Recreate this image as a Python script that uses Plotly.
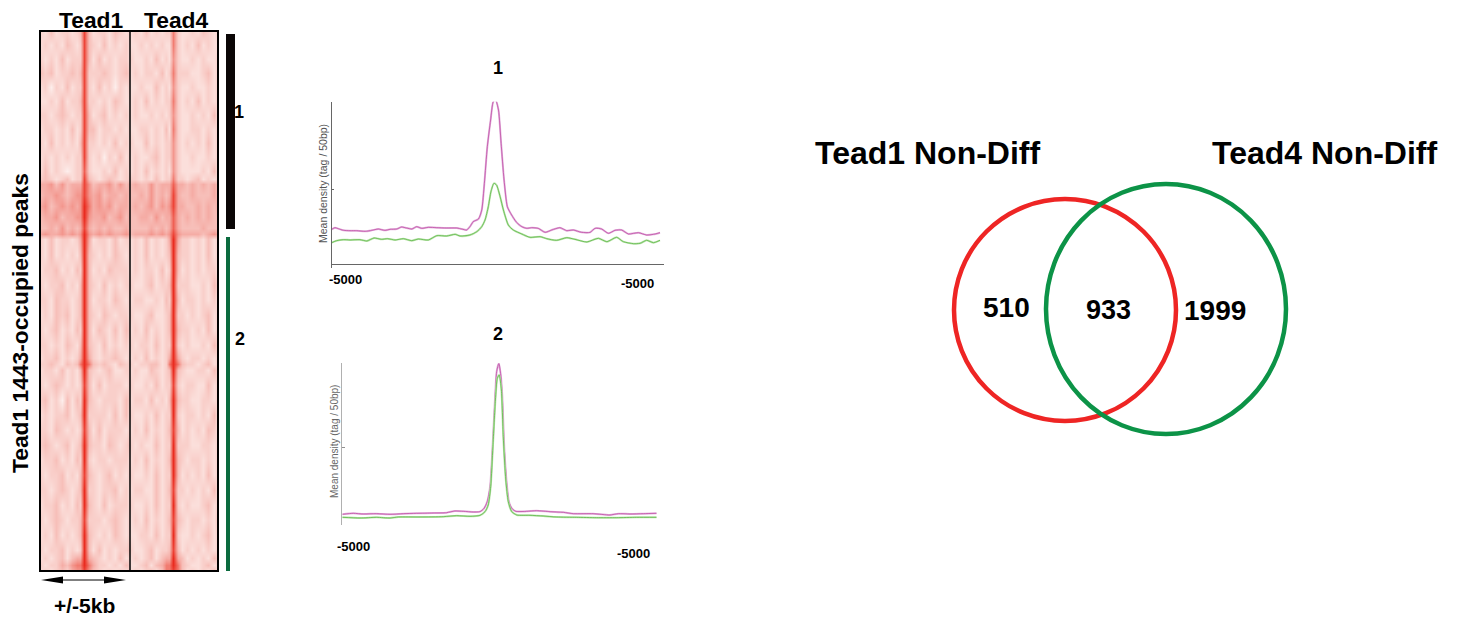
import plotly.graph_objects as go

W, H = 1459, 620
FONT = "Liberation Sans"

# ---------- heat map data (hand-read shade levels, 0 pale .. 9 red) ----------
heat_kb = [-5, -4.4, -3.8, -3.2, -2.6, -2, -1.4, -0.9, -0.6, -0.1, 0.4, 0.9, 1.5, 2.1, 2.7, 3.3, 3.9, 4.5, 5]
heat_rank = [0, 37, 75, 112, 150, 187, 224, 262, 299, 337, 374, 395, 409, 438, 468, 497, 526, 542, 556,
             598, 639, 679, 719, 759, 799, 839, 874, 890, 906, 946, 986, 1026, 1066, 1106, 1146, 1186,
             1226, 1266, 1306, 1347, 1387, 1408, 1427, 1443]
tead1_rows = [
    "21312212 3 8 3 12213212", "12121321 2 8 3 21312121", "21213122 2 8 3 13121221", "32312232 3 8 2 22321232",
    "12021312 2 8 2 13120212", "11213122 3 8 2 21213211", "22123212 2 8 3 12312121", "12212131 2 8 3 31221212",
    "21312121 3 8 2 21213121", "12121212 2 8 2 12021312", "13121012 2 7 2 11213121", "23212312 2 8 3 21232122",
    "44535344 4 8 5 34453534", "34454345 5 8 5 45344343", "45345454 5 9 6 45453443", "34453445 5 9 5 44534534",
    "33435343 4 8 4 34343343", "45445454 5 9 5 45454454", "21312212 4 9 4 12213122",
    "21312121 3 9 3 21213212", "12231213 2 9 3 12132221", "21223121 3 9 3 21312122", "22132212 3 9 3 12213212",
    "12132312 3 9 3 21321221", "21231213 2 9 3 13213132", "22121321 3 9 3 21312121", "12231212 4 9 4 21223212",
    "22321323 6 9 6 32321322", "12213121 3 9 3 21231122", "21232121 2 8 3 13122212", "23120313 2 9 3 21222132",
    "12122312 3 9 2 22213131", "22132121 2 8 3 13122212", "23212312 3 9 3 22132123", "12231213 2 9 2 12212221",
    "21223121 3 8 3 21231212", "22123212 3 9 2 21223121", "12231213 2 9 3 21312221", "21232122 3 8 2 22123212",
    "12131212 3 9 3 21213212", "21223121 2 9 3 13121223", "12123134 4 9 4 32121312", "21224356 6 9 6 42212132",
    "12123245 5 8 5 32121213",
]
tead4_rows = [
    "12131212 2 6 2 11213212", "11212121 1 6 2 12131211", "21121312 1 5 2 11212112", "12122131 2 6 2 22112312",
    "11211312 1 5 2 11211212", "12131212 2 6 2 12131212", "12112121 2 5 2 11212131", "11221213 1 6 2 11221212",
    "21131212 2 5 2 12121312", "12112312 2 5 2 11211212", "12131212 1 5 2 11112131", "22121312 2 6 2 21231212",
    "34335344 4 7 4 43434343", "33435343 4 8 4 33433343", "34345354 5 8 4 43343434", "33443534 4 7 4 34343433",
    "33334343 4 7 4 33334333", "34445454 5 8 5 44443454", "12131212 4 9 4 22121312",
    "12131212 3 9 3 22121312", "12122131 2 9 3 12121221", "21123122 3 9 2 22112132", "12211213 2 9 3 12212121",
    "21123112 3 9 2 21212312", "12131212 3 9 3 22121312", "21221312 2 9 2 12112132", "12131212 4 9 4 21221212",
    "21223312 6 9 6 32212312", "12113212 3 9 3 21122132", "21121312 2 8 2 12211312", "12213121 3 9 3 22112212",
    "21121312 2 9 2 12212131", "12131212 3 8 3 12121321", "21211312 2 9 2 22112212", "12131212 3 9 3 21221212",
    "21121312 2 9 3 12121312", "12211312 3 8 2 21212131", "21121312 2 9 2 12112312", "12131212 3 8 3 21221213",
    "11221312 2 9 2 11212312", "21123122 3 8 3 12121212", "12123134 4 9 4 31212132", "11231346 6 9 6 32112312",
    "12123136 6 8 6 31212131",
]
heat_colors = ["#fdeeec", "#fbdfdb", "#f9cfca", "#f7bfb9", "#f5aca5",
               "#f3968d", "#f17c71", "#ef6054", "#ed4438", "#e92c20"]

# ---------- profile 1 ----------
p1_magenta_x = [-5000, -4900, -4800, -4640, -4440, -4240, -3980, -3780, -3580, -3380, -3220, -3020, -2870, -2720, -2560,
                -2410, -2260, -2060, -1800, -1500, -1190, -1040, -890, -790, -690, -530, -430, -350, -260, -160,
                -80, -10, 80, 160, 250, 350, 480, 630, 790, 940, 1090, 1290, 1500, 1700, 1950,
                2160, 2360, 2610, 2870, 3020, 3220, 3430, 3630, 3830, 4040, 4340, 4590, 4800, 5000]
p1_magenta_y = [143, 148, 145, 140, 139, 139, 137, 140, 144, 140, 143, 144, 150, 147, 144,
                151, 146, 149, 148, 147, 147, 144, 141, 151, 166, 174, 201, 281, 391, 471,
                526, 531, 501, 401, 291, 211, 186, 164, 151, 146, 148, 146, 134, 141, 148,
                139, 141, 134, 134, 146, 144, 131, 140, 141, 129, 133, 126, 128, 133]
p1_green_x = [-5000, -4850, -4640, -4440, -4140, -3930, -3710, -3480, -3300, -3070, -2820, -2560, -2360, -2060, -1800,
              -1500, -1240, -1090, -790, -580, -430, -330, -230, -150, -60, 20, 130, 230, 380, 530,
              790, 1040, 1350, 1550, 1850, 2160, 2410, 2770, 3120, 3380, 3680, 3880, 4190, 4390, 4590, 4800, 5000]
p1_green_y = [103, 109, 112, 111, 112, 108, 117, 113, 115, 111, 115, 109, 114, 111, 124,
              123, 128, 123, 126, 136, 151, 171, 211, 256, 281, 276, 241, 201, 156, 141,
              129, 119, 121, 115, 110, 118, 113, 105, 116, 106, 119, 106, 100, 101, 110, 103, 110]

# ---------- profile 2 ----------
p2_magenta_x = [-5000, -4650, -4330, -3910, -3480, -3060, -2640, -2110, -1680, -1420, -1150, -830, -620, -490, -390,
                -300, -220, -140, -90, -20, 40, 90, 150, 230, 300, 390, 520, 860, 1180, 1610,
                2030, 2350, 2980, 3510, 3780, 4150, 4580, 5000]
p2_magenta_y = [62, 65, 63, 64, 62, 64, 65, 66, 67, 72, 71, 69, 70, 80, 100,
                145, 265, 415, 490, 515, 480, 415, 265, 155, 100, 80, 71, 71, 73, 70,
                68, 64, 64, 60, 64, 63, 64, 65]
p2_green_x = [-5000, -4440, -3910, -3480, -3220, -2530, -1790, -1360, -940, -620, -460, -360, -280, -210, -130,
              -70, -10, 60, 120, 200, 280, 390, 550, 970, 1390, 1820, 2450, 3090, 3730, 4360, 5000]
p2_green_y = [53, 51, 53, 51, 54, 54, 55, 58, 56, 59, 70, 90, 145, 265, 405,
              470, 480, 435, 295, 165, 100, 70, 60, 59, 57, 54, 53, 52, 52, 53, 53]

venn_counts = ["510", "933", "1999"]
venn_titles = ["Tead1 Non-Diff", "Tead4 Non-Diff"]


def fx(x):
    return x / W


def fy(y):
    return 1 - y / H


def to_matrix(rows):
    return [[int(c) for c in r.replace(" ", "")] for r in rows]


scale = [[i / 9, c] for i, c in enumerate(heat_colors)]
fig = go.Figure()

for rows, xa, ya in [(tead1_rows, "x", "y"), (tead4_rows, "x2", "y2")]:
    fig.add_trace(go.Heatmap(x=heat_kb, y=heat_rank, z=to_matrix(rows), colorscale=scale, zmin=0, zmax=9,
                             zsmooth="best", showscale=False, hoverinfo="skip", xaxis=xa, yaxis=ya))


def profile(xs, ys, halo, core, xa, ya):
    fig.add_trace(go.Scatter(x=xs, y=ys, mode="lines", line=dict(color=halo, width=2, shape="spline", smoothing=0.6),
                             cliponaxis=False, hoverinfo="skip", xaxis=xa, yaxis=ya))
    fig.add_trace(go.Scatter(x=xs, y=ys, mode="lines", line=dict(color=core, width=0.8, shape="spline", smoothing=0.6),
                             cliponaxis=False, hoverinfo="skip", xaxis=xa, yaxis=ya))


MAG_H, MAG_C, GRN_H, GRN_C = "#e3b2dc", "#c04fa6", "#bfe5b0", "#5cb847"
profile(p1_magenta_x, p1_magenta_y, MAG_H, MAG_C, "x3", "y3")
profile(p1_green_x, p1_green_y, GRN_H, GRN_C, "x3", "y3")
profile(p2_magenta_x, p2_magenta_y, MAG_H, MAG_C, "x4", "y4")
profile(p2_green_x, p2_green_y, GRN_H, GRN_C, "x4", "y4")


def hidden(domain, rng, anchor):
    return dict(domain=domain, range=rng, anchor=anchor, visible=False, fixedrange=True)


layout = dict(
    width=W, height=H, margin=dict(l=0, r=0, t=0, b=0), paper_bgcolor="white", plot_bgcolor="rgba(0,0,0,0)",
    showlegend=False, font=dict(family=FONT, color="black"),
    xaxis=hidden([fx(40), fx(130)], [-5, 5], "y"),
    yaxis=hidden([fy(571), fy(31)], [1443, 0], "x"),
    xaxis2=hidden([fx(130), fx(218)], [-5, 5], "y2"),
    yaxis2=hidden([fy(571), fy(31)], [1443, 0], "x2"),
    xaxis3=dict(domain=[fx(331.7), fx(664.3)], range=[-5000, 5130], anchor="y3", showgrid=False, zeroline=False,
                showline=True, linecolor="#666666", linewidth=1, tickvals=[-5000], ticktext=[""], ticks="outside",
                ticklen=3, tickcolor="#666666", fixedrange=True),
    yaxis3=dict(domain=[fy(264), fy(101.7)], range=[39, 526], anchor="x3", showgrid=False, zeroline=False,
                showline=True, linecolor="#666666", linewidth=1, tickvals=[263, 526], ticktext=["", ""],
                ticks="inside", ticklen=2, tickcolor="#666666", fixedrange=True),
    xaxis4=dict(domain=[fx(342.3), fx(656.7)], range=[-5000, 5000], anchor="y4", visible=False, fixedrange=True),
    yaxis4=dict(domain=[fy(525), fy(363.3)], range=[30, 515], anchor="x4", showgrid=False, zeroline=False,
                showline=True, linecolor="#b0b0b0", linewidth=1, tickvals=[262, 515], ticktext=["", ""],
                ticks="inside", ticklen=3, tickcolor="#909090", fixedrange=True),
)


def rect(x0, y0, x1, y1, fill=None, line=None, lw=0):
    return dict(type="rect", xref="paper", yref="paper", x0=fx(x0), x1=fx(x1), y0=fy(y0), y1=fy(y1),
                fillcolor=fill or "rgba(0,0,0,0)", line=dict(color=line or "rgba(0,0,0,0)", width=lw), layer="above")


def ellipse(x, y, rx, ry, color):
    return dict(type="circle", xref="paper", yref="paper", x0=fx(x - rx), x1=fx(x + rx), y0=fy(y + ry), y1=fy(y - ry),
                line=dict(color=color, width=4.5), layer="above")


def seg(x0, y0, x1, y1, color="black", lw=1):
    return dict(type="line", xref="paper", yref="paper", x0=fx(x0), x1=fx(x1), y0=fy(y0), y1=fy(y1),
                line=dict(color=color, width=lw), layer="above")


def tri(x0, x1, y, h):
    return dict(type="path", xref="paper", yref="paper", layer="above", fillcolor="black", line=dict(width=0),
                path=f"M {fx(x0)} {fy(y)} L {fx(x1)} {fy(y - h)} L {fx(x1)} {fy(y + h)} Z")


layout["shapes"] = [
    rect(40, 31, 218, 571, line="black", lw=2),
    seg(130, 31, 130, 571, lw=1.5),
    rect(226, 34, 235, 229, fill="#0a0606"),
    rect(226, 237, 230, 571, fill="#0b6b3e"),
    seg(62, 580, 105, 580, lw=1),
    tri(41, 63, 580, 3.6),
    tri(126, 104, 580, 3.6),
    ellipse(1065, 310, 111, 111, "#ee2524"),
    ellipse(1166, 309, 120, 125, "#0c9347"),
]


def txt(x, y, s, size, angle=0, color="black", bold=True):
    return dict(xref="paper", yref="paper", x=fx(x), y=fy(y), text=f"<b>{s}</b>" if bold else s, showarrow=False,
                xanchor="center", yanchor="middle", textangle=angle, font=dict(family=FONT, size=size, color=color))


layout["annotations"] = [
    txt(91.5, 20, "Tead1", 22.8), txt(176, 20, "Tead4", 22.8),
    txt(20, 323, "Tead1 1443-occupied peaks", 22.8, angle=-90),
    txt(239, 112, "1", 18), txt(240, 339, "2", 18),
    txt(84, 605, "+/-5kb", 21),
    txt(497.7, 68, "1", 18), txt(498, 334, "2", 18),
    txt(345, 279, "-5000", 13), txt(637, 284, "-5000", 13),
    txt(353, 546, "-5000", 13), txt(633, 553, "-5000", 13),
    txt(323, 184, "Mean density (tag / 50bp)", 10.5, angle=-90, color="#555555", bold=False),
    txt(334, 442, "Mean density (tag / 50bp)", 10, angle=-90, color="#666666", bold=False),
    txt(928, 153, venn_titles[0], 32), txt(1325, 153, venn_titles[1], 32),
    txt(1006, 307, venn_counts[0], 28), txt(1108, 310, venn_counts[1], 27), txt(1215, 310, venn_counts[2], 28),
]

fig.update_layout(**layout)
fig.write_html("out.html", config=dict(displayModeBar=False),
               post_script="document.body.style.margin='0';document.documentElement.style.overflow='hidden';")
